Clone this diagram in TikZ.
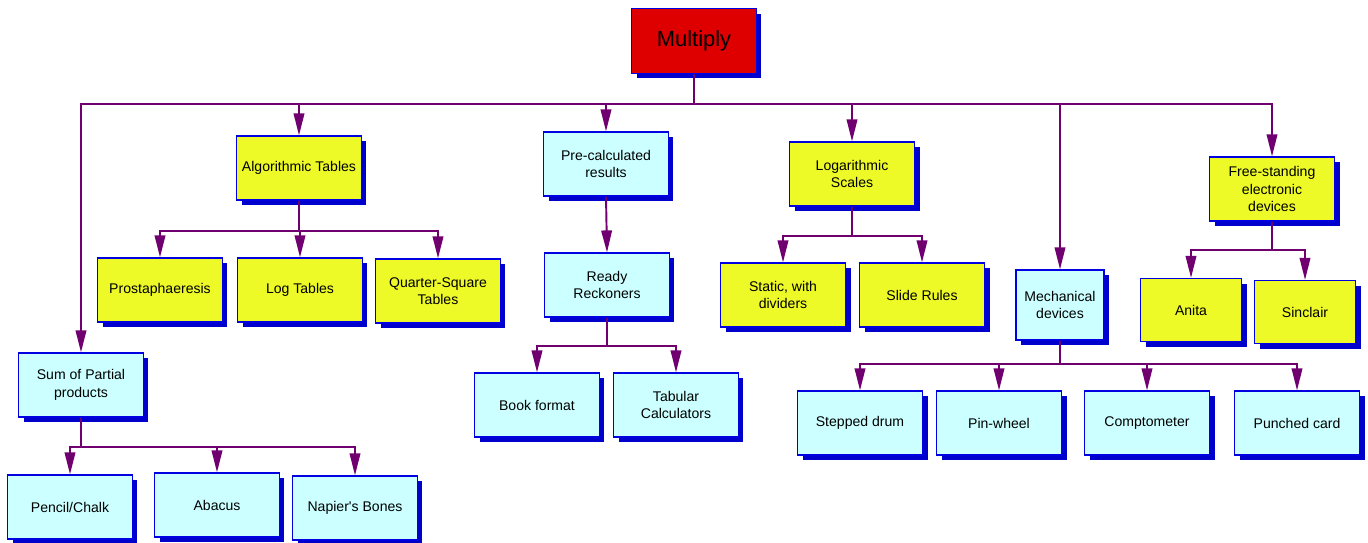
\documentclass[tikz,border=0pt]{standalone}
\usepackage{fontspec}
\setmainfont{Liberation Sans}
\usepackage{tikz}
\usetikzlibrary{arrows.meta,shadows}
\definecolor{boxblue}{RGB}{0,0,225}
\definecolor{shadeblue}{RGB}{0,0,205}
\definecolor{linkpurple}{RGB}{112,0,112}
\definecolor{boxyellow}{RGB}{238,250,40}
\definecolor{boxcyan}{RGB}{204,255,255}
\definecolor{boxred}{RGB}{222,0,0}
\tikzset{
  box/.style={draw=boxblue,line width=0.7pt,align=center,
    minimum width=2.5cm,minimum height=1.28cm,inner sep=1pt,
    font=\fontsize{8}{10}\selectfont,
    drop shadow={shadow xshift=0.1cm,shadow yshift=-0.1cm,fill=shadeblue,opacity=1}},
  ybox/.style={box,fill=boxyellow},
  cbox/.style={box,fill=boxcyan},
  link/.style={draw=linkpurple,line width=1.1pt,
    -{Triangle[length=12.5pt,width=6pt,fill=linkpurple]}},
}

\begin{document}
\begin{tikzpicture}[x=0.02cm,y=-0.02cm]
    \useasboundingbox (0,0) rectangle (1368,542);
    % top
    \node[box,fill=boxred,minimum height=1.3cm,font=\fontsize{12.5}{14}\selectfont] (mult) at (694,41) {Multiply};
    % first level
    \node[cbox] (sum)  at (81,385)   {Sum of Partial\\products};
    \node[ybox] (algo) at (299,168)  {Algorithmic Tables};
    \node[cbox] (pre)  at (606,164)  {Pre-calculated\\results};
    \node[ybox] (logs) at (852,174)  {Logarithmic\\Scales};
    \node[cbox,minimum width=1.76cm,minimum height=1.4cm] (mech) at (1060,305) {Mechanical\\devices};
    \node[ybox] (free) at (1272,189) {Free-standing\\electronic\\devices};
    % second level
    \node[ybox] (pros)  at (160,290) {Prostaphaeresis};
    \node[ybox] (logt)  at (300,290) {Log Tables};
    \node[ybox] (quart) at (438,291) {Quarter-Square\\Tables};
    \node[cbox] (ready) at (607,285) {Ready\\Reckoners};
    \node[cbox] (book)  at (537,405) {Book format};
    \node[cbox] (tab)   at (676,405) {Tabular\\Calculators};
    \node[ybox] (stat)  at (783,295) {Static, with\\dividers};
    \node[ybox] (slide) at (922,295) {Slide Rules};
    \node[cbox] (step)  at (860,423) {Stepped drum};
    \node[cbox] (pin)   at (999,423) {Pin-wheel};
    \node[cbox] (comp)  at (1147,423) {Comptometer};
    \node[cbox] (punch) at (1297,423) {Punched card};
    \node[ybox,minimum width=2.02cm,minimum height=1.26cm] (anita) at (1191,310) {Anita};
    \node[ybox,minimum width=2.02cm,minimum height=1.26cm] (sinc)  at (1305,312) {Sinclair};
    \node[cbox] (pencil) at (70,507)  {Pencil/Chalk};
    \node[cbox] (abac)   at (217,505) {Abacus};
    \node[cbox] (napier) at (355,508) {Napier\textquotesingle s Bones};
    % bus levels
    \coordinate (busM) at (0,104);
    \coordinate (busA) at (0,231);
    \coordinate (busR) at (0,346);
    \coordinate (busL) at (0,236);
    \coordinate (busC) at (0,364);
    \coordinate (busF) at (0,250);
    \coordinate (busS) at (0,447);
    % connectors
    \foreach \c in {sum,algo,pre,logs,mech,free}
        \draw[link] (mult.south) -- (mult.south |- busM) -| (\c.north);
    \foreach \c in {pros,logt,quart}
        \draw[link] (algo.south) -- (algo.south |- busA) -| (\c.north);
    \draw[link] (pre.south) -- (ready.north);
    \foreach \c in {book,tab}
        \draw[link] (ready.south) -- (ready.south |- busR) -| (\c.north);
    \foreach \c in {stat,slide}
        \draw[link] (logs.south) -- (logs.south |- busL) -| (\c.north);
    \foreach \c in {step,pin,comp,punch}
        \draw[link] (mech.south) -- (mech.south |- busC) -| (\c.north);
    \foreach \c in {anita,sinc}
        \draw[link] (free.south) -- (free.south |- busF) -| (\c.north);
    \foreach \c in {pencil,abac,napier}
        \draw[link] (sum.south) -- (sum.south |- busS) -| (\c.north);
\end{tikzpicture}
\end{document}
